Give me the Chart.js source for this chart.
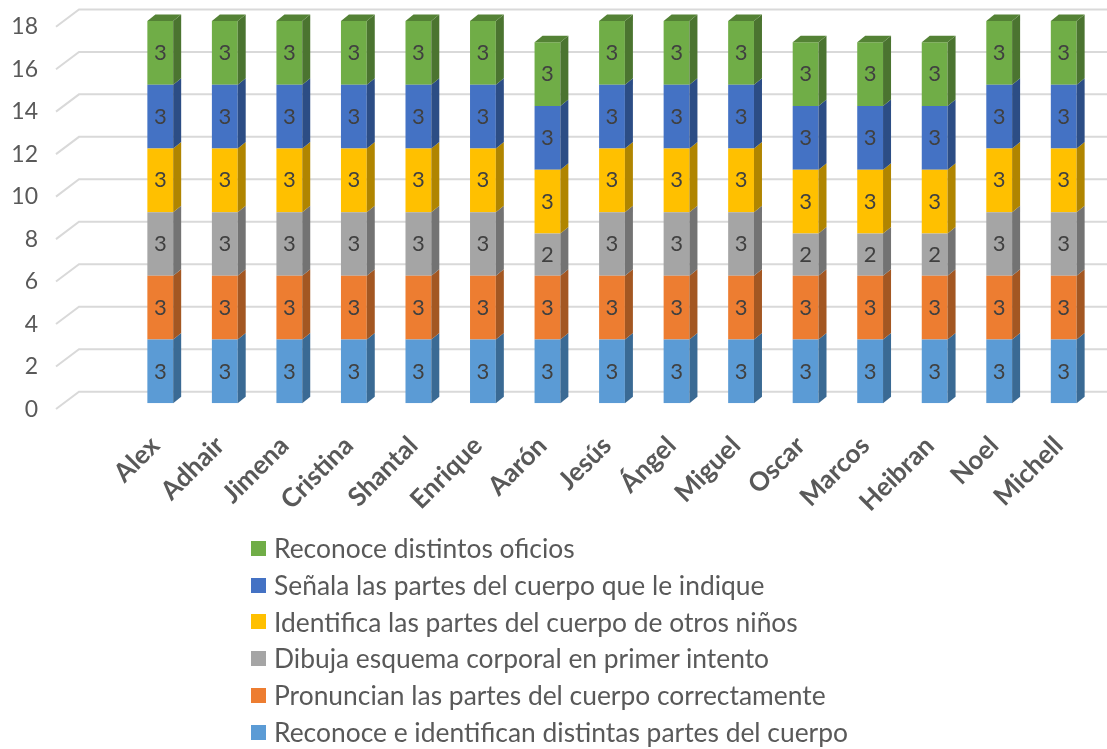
<!DOCTYPE html>
<html>
<head>
<meta charset="utf-8">
<style>
  html, body { margin: 0; padding: 0; background: #fff; }
  canvas { display: block; }
  #leyenda { position: absolute; left: 251px; top: 530px; font: 26.4px Lato, sans-serif; color: #595959; }
  #leyenda div { height: 36.8px; line-height: 36.8px; white-space: nowrap; display: flex; align-items: center; }
  #leyenda span { width: 15px; height: 15px; margin-right: 8px; flex: none; }
</style>
<script src="https://cdn.jsdelivr.net/npm/chart.js@4"></script>
</head>
<body>
<canvas id="myChart" width="1107" height="749"></canvas>
<div id="leyenda"></div>
<script>
var nombres = ['Alex', 'Adhair', 'Jimena', 'Cristina', 'Shantal', 'Enrique', 'Aarón', 'Jesús', 'Ángel', 'Miguel', 'Oscar', 'Marcos', 'Heibran', 'Noel', 'Michell'];

var reconoceIdentifican = [3, 3, 3, 3, 3, 3, 3, 3, 3, 3, 3, 3, 3, 3, 3];
var pronuncian = [3, 3, 3, 3, 3, 3, 3, 3, 3, 3, 3, 3, 3, 3, 3];
var dibuja = [3, 3, 3, 3, 3, 3, 2, 3, 3, 3, 2, 2, 2, 3, 3];
var identifica = [3, 3, 3, 3, 3, 3, 3, 3, 3, 3, 3, 3, 3, 3, 3];
var senala = [3, 3, 3, 3, 3, 3, 3, 3, 3, 3, 3, 3, 3, 3, 3];
var reconoceOficios = [3, 3, 3, 3, 3, 3, 3, 3, 3, 3, 3, 3, 3, 3, 3];

var frontColors = ['#5B9BD5', '#ED7D31', '#A5A5A5', '#FFC000', '#4472C4', '#70AD47'];
var sideColors = ['#3A6A94', '#A35722', '#737373', '#B08500', '#2C4D85', '#4B7430'];
var topColor = '#548235';

var fontName = 'Lato, sans-serif';

// fake 3d depth, same offsets excel uses for this picture
var depthX = 8;
var depthY = 6.5;

var wall3d = {
    id: 'wall3d',
    beforeDatasetsDraw: function (chart) {
        var ctx = chart.ctx;
        var y = chart.scales.y;
        ctx.save();
        ctx.strokeStyle = '#D9D9D9';
        ctx.lineWidth = 2;
        y.ticks.forEach(function (t) {
            var py = y.getPixelForValue(t.value);
            ctx.beginPath();
            ctx.moveTo(56, py + 5.7);
            ctx.lineTo(79, py - 11.6);
            ctx.lineTo(chart.width, py - 11.6);
            ctx.stroke();
        });
        ctx.restore();
    },
    afterDatasetsDraw: function (chart) {
        var ctx = chart.ctx;
        var last = chart.data.datasets.length - 1;
        ctx.save();
        chart.data.datasets.forEach(function (ds, d) {
            chart.getDatasetMeta(d).data.forEach(function (bar, i) {
                var r = bar.x + bar.width / 2;
                var l = bar.x - bar.width / 2;
                ctx.fillStyle = sideColors[d];
                ctx.beginPath();
                ctx.moveTo(r, bar.y);
                ctx.lineTo(r + depthX, bar.y - depthY);
                ctx.lineTo(r + depthX, bar.base - depthY);
                ctx.lineTo(r, bar.base);
                ctx.closePath();
                ctx.fill();
                if (d === last) {
                    ctx.fillStyle = topColor;
                    ctx.beginPath();
                    ctx.moveTo(l, bar.y);
                    ctx.lineTo(l + depthX, bar.y - depthY);
                    ctx.lineTo(r + depthX, bar.y - depthY);
                    ctx.lineTo(r, bar.y);
                    ctx.closePath();
                    ctx.fill();
                }
                ctx.fillStyle = '#404040';
                ctx.font = '22px ' + fontName;
                ctx.textAlign = 'center';
                ctx.textBaseline = 'middle';
                ctx.fillText(ds.data[i], bar.x, (bar.y + bar.base) / 2);
            });
        });
        ctx.restore();
    }
};

var seriesNames = [
    'Reconoce e identifican distintas partes del cuerpo',
    'Pronuncian las partes del cuerpo correctamente',
    'Dibuja esquema corporal en primer intento',
    'Identifica las partes del cuerpo de otros niños',
    'Señala las partes del cuerpo que le indique',
    'Reconoce distintos oficios'
];
var seriesValues = [reconoceIdentifican, pronuncian, dibuja, identifica, senala, reconoceOficios];

var ctx = document.getElementById('myChart').getContext('2d');
var myChart = new Chart(ctx, {
    type: 'bar',
    data: {
        labels: nombres,
        datasets: seriesNames.map(function (name, i) {
            return {
                label: name,
                data: seriesValues[i],
                backgroundColor: frontColors[i],
                barPercentage: 0.4,
                categoryPercentage: 1
            };
        })
    },
    options: {
        responsive: false,
        animation: false,
        layout: { padding: { top: 21, right: 11, bottom: 225.7 } },
        plugins: {
            tooltip: { enabled: false },
            legend: { display: false }
        },
        scales: {
            x: {
                stacked: true,
                grid: { display: false },
                border: { display: false },
                afterFit: function (scale) {
                    scale.height = 120;
                    scale.paddingLeft = 0;
                    scale.paddingRight = 0;
                },
                ticks: {
                    autoSkip: false,
                    minRotation: 45,
                    maxRotation: 45,
                    padding: 19,
                    labelOffset: -5,
                    color: '#595959',
                    font: { family: fontName, size: 26, weight: 'bold' }
                }
            },
            y: {
                stacked: true,
                min: 0,
                max: 18,
                grid: { display: false },
                border: { display: false },
                afterFit: function (scale) {
                    scale.width = 128;
                    // big tick padding would otherwise eat the plot height
                    scale.paddingTop = 0;
                    scale.paddingBottom = 0;
                },
                ticks: {
                    stepSize: 2,
                    padding: 82,
                    labelOffset: 6,
                    color: '#595959',
                    font: { family: fontName, size: 23 }
                }
            }
        }
    },
    plugins: [wall3d]
});

// legend goes bottom-up like the stack
var leyenda = document.getElementById('leyenda');
for (var i = seriesNames.length - 1; i >= 0; i--) {
    var fila = document.createElement('div');
    var caja = document.createElement('span');
    caja.style.background = frontColors[i];
    fila.appendChild(caja);
    fila.appendChild(document.createTextNode(seriesNames[i]));
    leyenda.appendChild(fila);
}
</script>
</body>
</html>
